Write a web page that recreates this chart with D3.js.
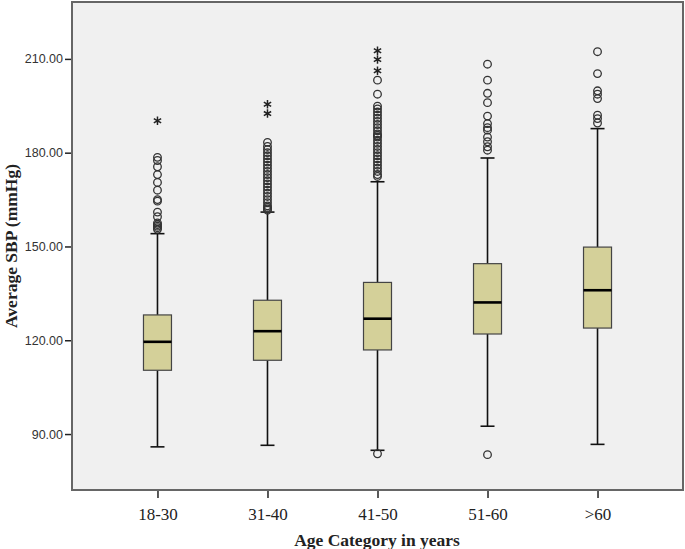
<!DOCTYPE html>
<html>
<head>
<meta charset="utf-8">
<script src="https://cdn.jsdelivr.net/npm/d3@7"></script>
<style>
  body { margin: 0; background: #fff; }
  svg { display: block; }
</style>
</head>
<body>
<div id="viz"></div>
<script>
// categories and box stats
var categories = ["18-30", "31-40", "41-50", "51-60", ">60"];
var q1 = [110.4, 113.6, 116.9, 122.0, 123.9];
var medians = [119.5, 122.9, 126.9, 132.1, 136.0];
var q3 = [128.1, 132.8, 138.5, 144.5, 149.8];
var whiskerLow = [85.9, 86.4, 84.8, 92.5, 86.7];
var whiskerHigh = [154.1, 161.0, 170.7, 178.3, 187.7];

// outliers (circles) and extremes (stars)
var outliers = [
  [178.5, 177.5, 175.5, 173, 170.5, 168, 165, 164.5, 161, 159.5, 157.5, 157, 156.5, 156, 155.5],
  [183.3, 182, 181, 180, 179, 178, 177, 176, 175, 174, 173, 172, 171, 170, 169, 168, 167, 166, 165, 164, 163, 162.5, 162, 161.6],
  [203.2, 198.7, 194.9, 194, 193, 192, 191, 190, 189, 188, 187, 186, 185.5, 185, 184, 183, 182, 181, 180, 179, 178, 177, 176, 175, 174, 173, 172.4, 83.7],
  [208.3, 203.2, 199, 196, 191.7, 189.3, 188, 187.2, 185, 183.5, 181.9, 180.8, 83.4],
  [212.3, 205.3, 199.8, 198.7, 197.3, 192, 190.9, 189.5]
];
var extremes = [
  [190.2],
  [195.5, 192.5],
  [212.6, 209.8, 206.2],
  [],
  []
];
var yTicks = [90, 120, 150, 180, 210];

var width = 685, height = 549;
// plot frame edges
var frameL = 72, frameT = 2, frameR = 683, frameB = 490;

var svg = d3.select("#viz").append("svg")
  .attr("width", width)
  .attr("height", height);

var x = d3.scalePoint()
  .domain(categories)
  .range([frameL, frameR])
  .padding(0.777);

var y = d3.scaleLinear()
  .domain([72.1, 228.2])
  .range([frameB, frameT]);

// plot background
svg.append("rect")
  .attr("x", frameL).attr("y", frameT)
  .attr("width", frameR - frameL).attr("height", frameB - frameT)
  .attr("fill", "#f0f0f0")
  .attr("stroke", "#666")
  .attr("stroke-width", 2);

// y axis
var yAxis = d3.axisLeft(y)
  .tickValues(yTicks)
  .tickSize(6)
  .tickFormat(d3.format(".2f"));
var gy = svg.append("g")
  .attr("transform", "translate(" + (frameL - 1) + ",0)")
  .call(yAxis);
gy.select(".domain").remove();
gy.selectAll(".tick line").attr("stroke", "#222").attr("stroke-width", 1.5);
gy.selectAll(".tick text")
  .attr("x", -8)
  .style("font-family", "'Liberation Sans', Arial, sans-serif")
  .style("font-size", "12.5px")
  .attr("fill", "#333");

// x axis
var xAxis = d3.axisBottom(x).tickSize(7).tickPadding(10);
var gx = svg.append("g")
  .attr("transform", "translate(0," + (frameB + 1) + ")")
  .call(xAxis);
gx.select(".domain").remove();
gx.selectAll(".tick line").attr("stroke", "#222").attr("stroke-width", 1.5);
gx.selectAll(".tick text")
  .style("font-family", "'Liberation Serif', 'Times New Roman', serif")
  .style("font-size", "17px")
  .attr("fill", "#222");

// axis titles
svg.append("text")
  .attr("transform", "translate(17,246) rotate(-90)")
  .attr("text-anchor", "middle")
  .style("font-family", "'Liberation Serif', 'Times New Roman', serif")
  .style("font-size", "17.5px")
  .style("font-weight", "bold")
  .attr("fill", "#222")
  .text("Average SBP (mmHg)");

svg.append("text")
  .attr("x", 377).attr("y", 546)
  .attr("text-anchor", "middle")
  .style("font-family", "'Liberation Serif', 'Times New Roman', serif")
  .style("font-size", "17.5px")
  .style("font-weight", "bold")
  .attr("fill", "#222")
  .text("Age Category in years");

var boxW = 28, capW = 14;

categories.forEach(function(c, i) {
  var cx = x(c);
  var g = svg.append("g");

  // whiskers
  g.append("line")
    .attr("x1", cx).attr("x2", cx)
    .attr("y1", y(whiskerLow[i])).attr("y2", y(q1[i]))
    .attr("stroke", "#111").attr("stroke-width", 1.6);
  g.append("line")
    .attr("x1", cx).attr("x2", cx)
    .attr("y1", y(q3[i])).attr("y2", y(whiskerHigh[i]))
    .attr("stroke", "#111").attr("stroke-width", 1.6);
  [whiskerLow[i], whiskerHigh[i]].forEach(function(v) {
    g.append("line")
      .attr("x1", cx - capW / 2).attr("x2", cx + capW / 2)
      .attr("y1", y(v)).attr("y2", y(v))
      .attr("stroke", "#111").attr("stroke-width", 1.6);
  });

  // box
  g.append("rect")
    .attr("x", cx - boxW / 2).attr("y", y(q3[i]))
    .attr("width", boxW).attr("height", y(q1[i]) - y(q3[i]))
    .attr("fill", "#d4d099")
    .attr("stroke", "#444").attr("stroke-width", 1.2);
  g.append("line")
    .attr("x1", cx - boxW / 2).attr("x2", cx + boxW / 2)
    .attr("y1", y(medians[i])).attr("y2", y(medians[i]))
    .attr("stroke", "#000").attr("stroke-width", 2.6);

  // outlier circles
  g.selectAll("circle")
    .data(outliers[i])
    .enter().append("circle")
    .attr("cx", cx).attr("cy", function(d) { return y(d); })
    .attr("r", 3.8)
    .attr("fill", "none")
    .attr("stroke", "#333").attr("stroke-width", 1.3);

  // extreme stars
  g.selectAll("path.star")
    .data(extremes[i])
    .enter().append("path")
    .attr("class", "star")
    .attr("transform", function(d) { return "translate(" + cx + "," + y(d) + ")"; })
    .attr("d", d3.symbol().type(d3.symbolAsterisk).size(50))
    .attr("fill", "none")
    .attr("stroke", "#222").attr("stroke-width", 1.5);
});
</script>
</body>
</html>
